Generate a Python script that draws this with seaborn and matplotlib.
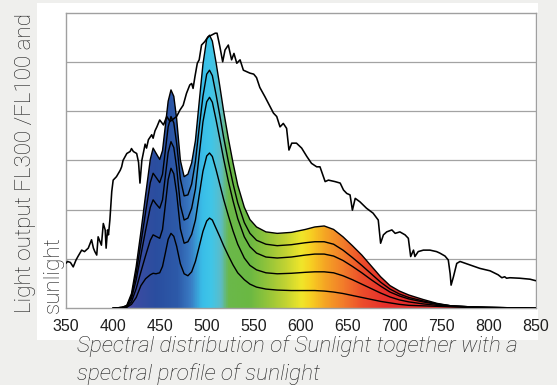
import numpy as np
import pandas as pd
import matplotlib
matplotlib.use("Agg")
import matplotlib.pyplot as plt
from matplotlib.colors import LinearSegmentedColormap
from matplotlib.patches import Rectangle
import seaborn as sns

# Sunlight spectrum, wavelength (nm) and relative output
sun_nm = [350, 352, 355, 358, 361, 363, 367, 370, 374, 377.5, 379.5, 381, 383, 384.5, 388,
          390, 392, 393, 394.5, 395.5, 397, 399, 400.5, 404, 408, 409.5, 411, 415, 418.5, 420,
          422, 425.5, 427.5, 429, 431, 434.5, 436, 438, 441.5, 443, 445, 447, 450, 454, 457.5,
          461, 464.5, 468, 471.5, 475, 478.5, 482, 484, 485.5, 487.5, 490, 492, 494.5, 498,
          501.5, 505, 509, 511, 514, 517, 519.5, 523, 526.5, 529, 532, 535.5, 539, 542.5, 546,
          550, 553, 556.5, 562, 565.5, 571, 574.5, 578, 581.5, 585, 587.5, 590.5, 595.5, 601,
          606.5, 611.5, 617, 620.5, 626, 629.5, 636.5, 642, 645.5, 649, 652.5, 655, 658, 663,
          670, 677, 682.5, 685, 688, 691.5, 697, 700.5, 705.5, 711, 714.5, 717, 720, 721.5,
          725, 730.5, 737.5, 744.5, 748, 753.5, 757, 759, 760, 762.5, 766, 769.5, 780, 790.5,
          801.5, 810, 814, 817, 819, 822.5, 833, 844, 850]
sun_val = [0.91, 0.95, 0.93, 0.84, 0.98, 1.05, 1.18, 1.15, 1.22, 1.39, 1.22, 1.15, 1.08, 1.45, 1.28,
           1.72, 1.59, 1.22, 1.59, 1.49, 1.79, 2.37, 2.60, 2.67, 2.80, 2.87, 3.00, 3.14, 3.18, 3.24,
           3.18, 3.14, 2.96, 2.54, 3.00, 3.33, 3.25, 3.42, 3.52, 3.45, 3.60, 3.68, 3.82, 3.72, 3.89,
           3.79, 3.84, 3.89, 4.02, 4.12, 4.36, 4.53, 4.56, 4.46, 4.70, 4.97, 5.04, 5.34, 5.41,
           5.51, 5.54, 5.58, 5.58, 5.31, 5.00, 5.24, 5.34, 5.04, 5.17, 4.97, 5.04, 4.83, 4.80, 4.77,
           4.75, 4.68, 4.48, 4.29, 4.16, 3.96, 3.89, 3.68, 3.75, 3.65, 3.21, 3.35, 3.35, 3.25,
           3.08, 2.94, 2.87, 2.87, 2.57, 2.60, 2.57, 2.54, 2.40, 2.33, 2.30, 1.99, 2.23, 2.16,
           2.03, 1.93, 1.79, 1.32, 1.49, 1.55, 1.59, 1.52, 1.55, 1.49, 1.42, 1.05, 1.18, 1.05,
           1.15, 1.18, 1.18, 1.15, 1.12, 1.06, 0.98, 0.70, 0.47, 0.64, 0.91, 0.95, 0.88, 0.81,
           0.76, 0.68, 0.62, 0.64, 0.61, 0.62, 0.61, 0.59, 0.56]

# FL lamp output at five levels (shared wavelength grid)
led_nm = [400, 410, 415, 420, 425, 430, 435, 440, 443, 446, 450, 453, 456, 459, 462, 465, 468,
          472, 476, 480, 484, 488, 492, 496, 500, 503, 506, 510, 514, 518, 523, 528, 533, 540,
          546, 553, 563, 575, 590, 605, 615, 625, 635, 645, 655, 665, 675, 685, 695, 705, 715,
          730, 745, 760, 780, 800, 825, 850]
fl_level1 = [0.0, 0.02, 0.06, 0.30, 0.85, 1.55, 2.30, 3.02, 3.25, 3.15, 3.02, 3.20, 3.70, 4.20,
             4.43, 4.30, 3.85, 3.00, 2.67, 2.72, 2.95, 3.40, 4.18, 4.95, 5.46, 5.54, 5.42, 4.98,
             4.50, 4.00, 3.45, 2.95, 2.50, 2.05, 1.80, 1.65, 1.55, 1.52, 1.54, 1.60, 1.65, 1.67,
             1.60, 1.45, 1.27, 1.08, 0.86, 0.64, 0.46, 0.35, 0.27, 0.18, 0.10, 0.05, 0.03, 0.02,
             0.01, 0.0]
fl_level2 = [0.0, 0.02, 0.05, 0.25, 0.72, 1.32, 1.95, 2.55, 2.74, 2.66, 2.55, 2.72, 3.20, 3.68,
             3.89, 3.76, 3.35, 2.62, 2.28, 2.30, 2.52, 2.98, 3.66, 4.30, 4.75, 4.83, 4.72, 4.33,
             3.91, 3.47, 2.98, 2.53, 2.14, 1.74, 1.52, 1.38, 1.30, 1.27, 1.29, 1.33, 1.35, 1.35,
             1.30, 1.18, 1.03, 0.87, 0.70, 0.53, 0.39, 0.29, 0.22, 0.15, 0.09, 0.05, 0.03, 0.02,
             0.01, 0.0]
fl_level3 = [0.0, 0.02, 0.04, 0.20, 0.58, 1.08, 1.58, 2.05, 2.20, 2.12, 2.03, 2.20, 2.68, 3.16,
             3.38, 3.26, 2.86, 2.09, 1.79, 1.83, 2.03, 2.42, 3.11, 3.78, 4.19, 4.28, 4.18, 3.82,
             3.43, 3.03, 2.58, 2.18, 1.82, 1.45, 1.25, 1.12, 1.04, 1.02, 1.04, 1.08, 1.10, 1.10,
             1.06, 0.97, 0.85, 0.72, 0.58, 0.45, 0.33, 0.25, 0.19, 0.13, 0.08, 0.05, 0.03, 0.02,
             0.01, 0.0]
fl_level4 = [0.0, 0.01, 0.03, 0.13, 0.40, 0.74, 1.07, 1.38, 1.49, 1.46, 1.42, 1.60, 2.10, 2.61,
             2.84, 2.73, 2.34, 1.61, 1.32, 1.35, 1.50, 1.79, 2.29, 2.78, 3.09, 3.15, 3.08, 2.81,
             2.51, 2.21, 1.88, 1.57, 1.30, 1.02, 0.87, 0.78, 0.72, 0.70, 0.71, 0.73, 0.74, 0.74,
             0.72, 0.66, 0.58, 0.49, 0.40, 0.31, 0.23, 0.17, 0.13, 0.09, 0.06, 0.04, 0.02, 0.01,
             0.01, 0.0]
fl_level5 = [0.0, 0.01, 0.02, 0.08, 0.22, 0.46, 0.60, 0.68, 0.71, 0.70, 0.72, 0.85, 1.12, 1.40,
             1.52, 1.46, 1.26, 0.90, 0.70, 0.66, 0.74, 0.95, 1.25, 1.56, 1.77, 1.83, 1.79, 1.62,
             1.45, 1.27, 1.07, 0.88, 0.72, 0.58, 0.49, 0.43, 0.39, 0.37, 0.36, 0.36, 0.36, 0.35,
             0.33, 0.30, 0.26, 0.22, 0.18, 0.14, 0.11, 0.08, 0.06, 0.05, 0.04, 0.03, 0.02, 0.01,
             0.01, 0.0]

x_ticks = [350, 400, 450, 500, 550, 600, 650, 700, 750, 800, 850]
y_label_lines = ["Light output FL300 /FL100 and", "sunlight"]
caption_lines = ["Spectral distribution of Sunlight together with a",
                 "spectral profile of sunlight"]

# Colour stops of the visible spectrum used for the fill
spectrum_stops = [(350, "#5a3c9c"), (405, "#5a46a6"), (425, "#3a4ba2"), (445, "#2a4e9f"),
                  (468, "#2d5aa9"), (482, "#3a7cc4"), (494, "#39bde8"), (504, "#40c6e8"),
                  (514, "#5cbcc8"), (522, "#6ab84a"), (545, "#6bb843"), (562, "#8ec33b"),
                  (582, "#bfd233"), (600, "#f0e62a"), (610, "#f7d022"), (625, "#f5a524"),
                  (645, "#f27b2a"), (665, "#ec4c2b"), (690, "#e72f2c"), (850, "#e5272b")]

sns.set_style("white")
plt.rcParams["font.family"] = ["Roboto", "DejaVu Sans"]

W, H = 557, 385
fig = plt.figure(figsize=(W / 100, H / 100), dpi=100, facecolor="#efefed")

# white panel behind the chart
fig.patches.append(Rectangle((37 / W, 1 - 340 / H), (538 - 37) / W, (340 - 3) / H,
                             transform=fig.transFigure, facecolor="white",
                             edgecolor="none", zorder=-5))

ax = fig.add_axes([65.7 / W, 1 - 308.3 / H, 470 / W, (308.3 - 12.5) / H])
ax.set_zorder(1)
ax.set_facecolor("white")
ax.set_xlim(350, 850)
ax.set_ylim(0, 6)

ax.set_axisbelow(True)
ax.set_yticks([1, 2, 3, 4, 5])
ax.yaxis.grid(True, color="#a3a3a3", lw=0.9)
ax.tick_params(axis="y", length=0, labelleft=False)
ax.set_xticks(x_ticks)
ax.set_xticklabels([str(t) for t in x_ticks], fontsize=11.5, color="#1e1e1e",
                   family=["Liberation Sans", "DejaVu Sans"])
ax.tick_params(axis="x", length=3.5, width=0.8, color="#999999", pad=4, direction="out")
for s in ax.spines.values():
    s.set_color("#a0a0a0")
    s.set_linewidth(1.0)
    s.set_visible(True)

# spectral gradient clipped to the outermost lamp curve
cmap = LinearSegmentedColormap.from_list(
    "spectrum", [((w - 350) / 500, c) for w, c in spectrum_stops])
outline = ax.fill_between(led_nm, 0, fl_level1, facecolor="none", edgecolor="none")
grad = np.linspace(350, 850, 1200)[np.newaxis, :]
im = ax.imshow(grad, extent=(350, 850, 0, 6), aspect="auto", cmap=cmap,
               vmin=350, vmax=850, zorder=2, interpolation="bilinear")
im.set_clip_path(outline.get_paths()[0], transform=ax.transData)

for level in [fl_level1, fl_level2, fl_level3, fl_level4, fl_level5]:
    sns.lineplot(x=led_nm, y=level, color="black", lw=1.0, ax=ax,
                 estimator=None, sort=False, zorder=3)

sns.lineplot(x=sun_nm, y=sun_val, color="black", lw=1.15, ax=ax,
             estimator=None, sort=False, zorder=4)
ax.set_xlim(350, 850)
ax.set_ylim(0, 6)
ax.set_xlabel("")
ax.set_ylabel("")

# rotated axis title, two lines aligned at the bottom
ylab_kw = dict(rotation=90, ha="center", va="bottom", fontsize=16.1,
               fontweight="light", color="#1e1e1e")
fig.text(26 / W, 1 - 313 / H, y_label_lines[0], **ylab_kw)
fig.text(53 / W, 1 - 313 / H, y_label_lines[1], **ylab_kw)

# italic caption under the chart
cap_kw = dict(ha="left", va="baseline", fontsize=16.2, style="italic",
              fontweight="light", color="#1e1e1e", zorder=3)
fig.text(77 / W, 1 - 352 / H, caption_lines[0], **cap_kw)
fig.text(77 / W, 1 - 380 / H, caption_lines[1], **cap_kw)

fig.savefig("out.png", dpi=100, facecolor=fig.get_facecolor())
